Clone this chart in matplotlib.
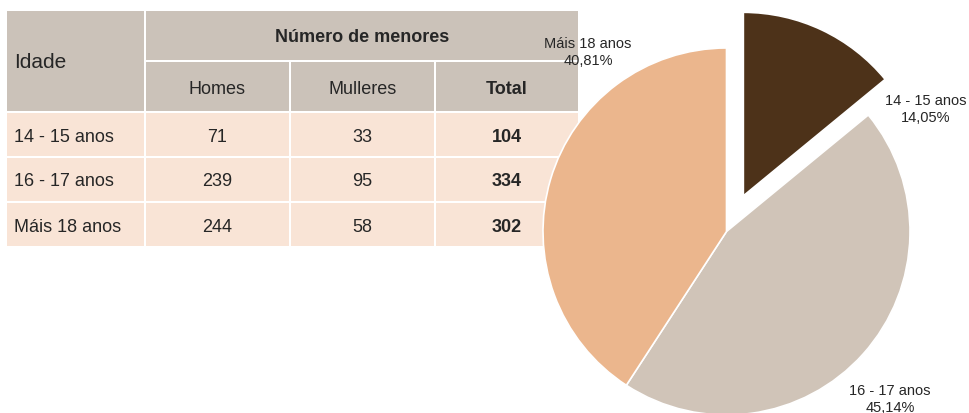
import matplotlib
matplotlib.use("Agg")
import matplotlib.pyplot as plt
from matplotlib.patches import Rectangle

plt.rcParams['font.family'] = ['Liberation Sans', 'DejaVu Sans']

# Data
age_groups = ['14 - 15 anos', '16 - 17 anos', 'Máis 18 anos']
homes = [71, 239, 244]
mulleres = [33, 95, 58]
totals = [h + m for h, m in zip(homes, mulleres)]
col_headers = ['Homes', 'Mulleres', 'Total']

# Styling
header_bg = '#CBC2B9'
row_bg = '#F9E4D6'
text_col = '#262626'
slice_colors = ['#4D3219', '#D0C4B8', '#EBB68D']

W, H = 969, 413
fig = plt.figure(figsize=(W / 100, H / 100), dpi=100)

# ---- Table (pixel coordinates) ----
tab = fig.add_axes([0, 0, 1, 1])
tab.set_xlim(0, W)
tab.set_ylim(H, 0)
tab.axis('off')

col_edges = [6, 145, 290, 435, 579]
row_edges = [10, 61, 112, 157, 202, 247]
text_dy = 2.5  # optical centring of text inside cells


def cell(c0, c1, r0, r1, color):
    x0, x1 = col_edges[c0] + 1, col_edges[c1] - 1
    y0, y1 = row_edges[r0] + 1, row_edges[r1] - 1
    tab.add_patch(Rectangle((x0, y0), x1 - x0, y1 - y0,
                            facecolor=color, edgecolor='none'))


def col_center(c):
    return (col_edges[c] + col_edges[c + 1]) / 2


def row_center(r):
    return (row_edges[r] + row_edges[r + 1]) / 2 + text_dy


# header cells
cell(0, 1, 0, 2, header_bg)
cell(1, 4, 0, 1, header_bg)
for c in range(1, 4):
    cell(c, c + 1, 1, 2, header_bg)
# body cells
for r in range(2, 5):
    for c in range(4):
        cell(c, c + 1, r, r + 1, row_bg)

tab.text(14, row_edges[1] + 2, 'Idade', ha='left', va='center',
         fontsize=15, color=text_col)
tab.text((col_edges[1] + col_edges[4]) / 2, row_center(0), 'Número de menores',
         ha='center', va='center', fontsize=13, fontweight='bold', color=text_col)
for i, h in enumerate(col_headers):
    tab.text(col_center(i + 1), row_center(1), h, ha='center', va='center',
             fontsize=13, color=text_col,
             fontweight='bold' if h == 'Total' else 'normal')

for i, age in enumerate(age_groups):
    y = row_center(i + 2)
    tab.text(14, y, age, ha='left', va='center', fontsize=13, color=text_col)
    tab.text(col_center(1), y, str(homes[i]), ha='center', va='center',
             fontsize=13, color=text_col)
    tab.text(col_center(2), y, str(mulleres[i]), ha='center', va='center',
             fontsize=13, color=text_col)
    tab.text(col_center(3), y, str(totals[i]), ha='center', va='center',
             fontsize=13, fontweight='bold', color=text_col)

# ---- Pie chart ----
cx, cy, rad = 726.5, 231.5, 183.5
pie_ax = fig.add_axes([(cx - rad) / W, (H - cy - rad) / H, 2 * rad / W, 2 * rad / H])
wedges, _ = pie_ax.pie(totals, startangle=90, counterclock=False,
                       colors=slice_colors, explode=[0.215, 0, 0],
                       wedgeprops=dict(edgecolor='white', linewidth=1.2))
for w in wedges:
    w.set_clip_on(False)
pie_ax.set_xlim(-1, 1)
pie_ax.set_ylim(-1, 1)
pie_ax.axis('off')

grand_total = sum(totals)
label_pos = [(1.087, 0.665), (0.891, -0.915), (-0.755, 0.975)]
for age, v, (lx, ly) in zip(age_groups, totals, label_pos):
    pct = f"{v / grand_total * 100:.2f}".replace('.', ',') + '%'
    pie_ax.text(lx, ly, f"{age}\n{pct}", ha='center', va='center',
                multialignment='center', fontsize=10.5, color=text_col,
                linespacing=1.2, clip_on=False)

fig.savefig('out.png', dpi=100)
